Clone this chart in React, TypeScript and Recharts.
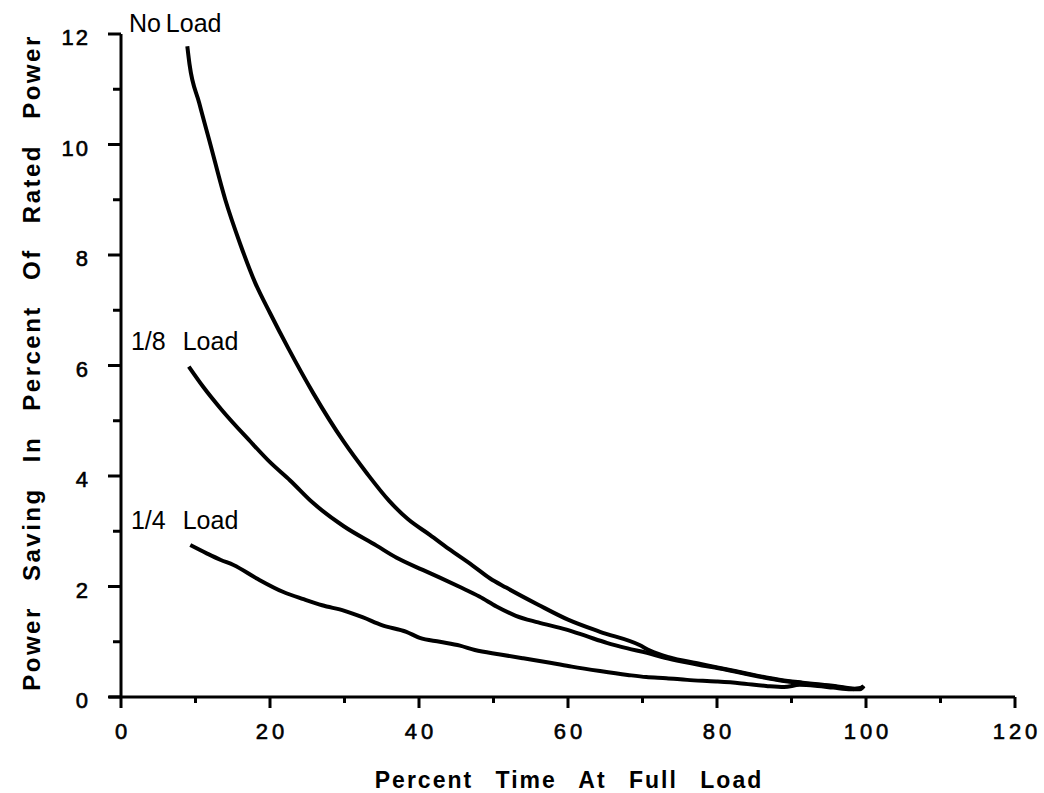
import React from 'react';
import { LineChart, Line, XAxis, YAxis, ReferenceDot, Label } from 'recharts';

// ---- data ----
const noLoadX = [8.9, 9.2, 10.5, 12.0, 14.0, 16.0, 18.0, 20.0, 22.5, 25.8, 29.9, 33.0, 36.0, 38.5, 41.5, 44.0, 47.2, 49.5, 51.7, 56.0, 60.0, 64.3, 69.6, 71.0, 73.5, 77.8, 80.2, 83.5, 86.8, 89.5, 91.5, 93.5, 95.8, 97.8, 99.2, 99.7];
const noLoadY = [11.78, 11.45, 10.75, 10.0, 9.0, 8.2, 7.5, 6.95, 6.3, 5.5, 4.62, 4.05, 3.55, 3.22, 2.93, 2.68, 2.38, 2.15, 1.98, 1.67, 1.4, 1.18, 0.94, 0.84, 0.72, 0.6, 0.53, 0.44, 0.35, 0.29, 0.26, 0.23, 0.2, 0.16, 0.15, 0.2];

const eighthX = [9.1, 11.0, 13.5, 17.4, 20.0, 22.7, 25.8, 29.9, 34.3, 37.0, 40.5, 42.8, 45.5, 48.1, 50.4, 53.0, 56.0, 59.8, 62.5, 65.2, 68.0, 70.6, 73.0, 75.3, 78.0, 80.2, 83.5, 86.8, 89.5, 91.5, 93.5, 95.8, 97.8, 99.2, 99.7];
const eighthY = [5.98, 5.62, 5.2, 4.62, 4.25, 3.92, 3.51, 3.09, 2.74, 2.52, 2.3, 2.16, 1.99, 1.82, 1.64, 1.47, 1.35, 1.22, 1.1, 0.98, 0.88, 0.8, 0.71, 0.64, 0.57, 0.52, 0.43, 0.34, 0.28, 0.25, 0.22, 0.19, 0.15, 0.14, 0.2];

const quarterX = [9.3, 11.5, 13.4, 15.1, 18.3, 21.8, 24.5, 27.0, 30.0, 32.5, 35.0, 38.3, 40.1, 42.8, 45.5, 47.5, 50.9, 54.0, 57.6, 60.5, 64.3, 68.0, 70.5, 73.2, 76.0, 79.9, 83.0, 86.6, 89.0, 91.1, 93.5, 95.6, 98.0, 99.6];
const quarterY = [2.75, 2.6, 2.48, 2.39, 2.14, 1.9, 1.77, 1.66, 1.56, 1.44, 1.3, 1.18, 1.07, 1.0, 0.93, 0.85, 0.77, 0.7, 0.62, 0.55, 0.47, 0.4, 0.36, 0.34, 0.31, 0.28, 0.25, 0.2, 0.18, 0.22, 0.2, 0.17, 0.14, 0.18];

const xTicks = [0, 10, 20, 30, 40, 50, 60, 70, 80, 90, 100, 110, 120];
const xLabelTicks = [0, 20, 40, 60, 80, 100, 120];
const yTicks = [0, 1, 2, 3, 4, 5, 6, 7, 8, 9, 10, 11, 12];
const yLabelTicks = [0, 2, 4, 6, 8, 10, 12];

const annotationText = ['No Load', '1/8 Load', '1/4 Load'];
const annotationX = [1.07, 1.34, 1.34];
const annotationY = [12.04, 6.28, 3.04];
const annotationWordSpacing = [-2, 10, 10];

const xTitle = 'Percent Time At Full Load';
const yTitle = 'Power Saving In Percent Of Rated Power';

const toPoints = (xs: number[], ys: number[]) => xs.map((x, i) => ({ x, y: ys[i] }));
const noLoad = toPoints(noLoadX, noLoadY);
const eighth = toPoints(eighthX, eighthY);
const quarter = toPoints(quarterX, quarterY);

const FONT = '"Liberation Sans", Arial, Helvetica, sans-serif';

const XTick = (props: any) => {
  const { x, y, payload } = props;
  const v = payload.value;
  const major = xLabelTicks.includes(v);
  return (
    <g>
      {v === 0 && <line x1={x - 12} y1={y} x2={x} y2={y} stroke="#000" strokeWidth={3} />}
      <line x1={x} y1={y} x2={x} y2={y + (major ? 11 : 6)} stroke="#000" strokeWidth={3} />
      {major && (
        <text x={x + 2} y={y + 42} textAnchor="middle" fontFamily={FONT} fontSize={22} letterSpacing={4}
          fill="#000" stroke="#000" strokeWidth={0.6}>
          {v}
        </text>
      )}
    </g>
  );
};

const YTick = (props: any) => {
  const { x, y, payload } = props;
  const v = payload.value;
  const major = yLabelTicks.includes(v);
  return (
    <g>
      <line x1={x - (major ? 13 : 8)} y1={y} x2={x} y2={y} stroke="#000" strokeWidth={3} />
      {major && (
        <text x={x - 31} y={y + 11} textAnchor="end" fontFamily={FONT} fontSize={22} letterSpacing={2}
          fill="#000" stroke="#000" strokeWidth={0.6}>
          {v}
        </text>
      )}
    </g>
  );
};

const XTitle = (props: any) => {
  const vb = props.viewBox || { x: 121, y: 697, width: 894, height: 80 };
  return (
    <text x={vb.x + vb.width / 2 + 1} y={vb.y + 91} textAnchor="middle" fontFamily={FONT} fontWeight="bold"
      fontSize={23} letterSpacing={2} wordSpacing={14} fill="#000">
      {xTitle}
    </text>
  );
};

const YTitle = (props: any) => {
  const vb = props.viewBox || { x: 21, y: 34, width: 100, height: 663 };
  const cx = vb.x + 10;
  const cy = vb.y + vb.height / 2 - 3;
  return (
    <text x={cx} y={cy} transform={`rotate(-90 ${cx} ${cy})`} textAnchor="middle" dominantBaseline="central"
      fontFamily={FONT} fontWeight="bold" fontSize={24} letterSpacing={2.5} wordSpacing={16} fill="#000">
      {yTitle}
    </text>
  );
};

const makeAnnotation = (i: number) => (p: any) => (
  <text x={p.cx} y={p.cy} fontFamily={FONT} fontSize={25} wordSpacing={annotationWordSpacing[i]} fill="#000">
    {annotationText[i]}
  </text>
);

export default function App() {
  return (
    <div style={{ position: 'absolute', left: 0, top: 0, background: '#fff' }}>
      <LineChart width={1040} height={792} margin={{ top: 34, right: 25, bottom: 15, left: 21 }}>
        <XAxis
          dataKey="x"
          type="number"
          domain={[0, 120]}
          ticks={xTicks}
          interval={0}
          allowDataOverflow
          height={80}
          tickSize={0}
          tickMargin={0}
          tickLine={false}
          axisLine={{ stroke: '#000', strokeWidth: 3 }}
          tick={<XTick />}
        >
          <Label content={<XTitle />} />
        </XAxis>
        <YAxis
          type="number"
          domain={[0, 12]}
          ticks={yTicks}
          interval={0}
          allowDataOverflow
          width={100}
          tickSize={0}
          tickMargin={0}
          tickLine={false}
          axisLine={{ stroke: '#000', strokeWidth: 3 }}
          tick={<YTick />}
        >
          <Label content={<YTitle />} />
        </YAxis>
        <Line data={noLoad} dataKey="y" type="monotone" stroke="#000" strokeWidth={4} dot={false} isAnimationActive={false} />
        <Line data={eighth} dataKey="y" type="monotone" stroke="#000" strokeWidth={4} dot={false} isAnimationActive={false} />
        <Line data={quarter} dataKey="y" type="monotone" stroke="#000" strokeWidth={4} dot={false} isAnimationActive={false} />
        {annotationText.map((t, i) => (
          <ReferenceDot key={t} x={annotationX[i]} y={annotationY[i]} r={0} ifOverflow="visible" shape={makeAnnotation(i)} />
        ))}
      </LineChart>
    </div>
  );
}
